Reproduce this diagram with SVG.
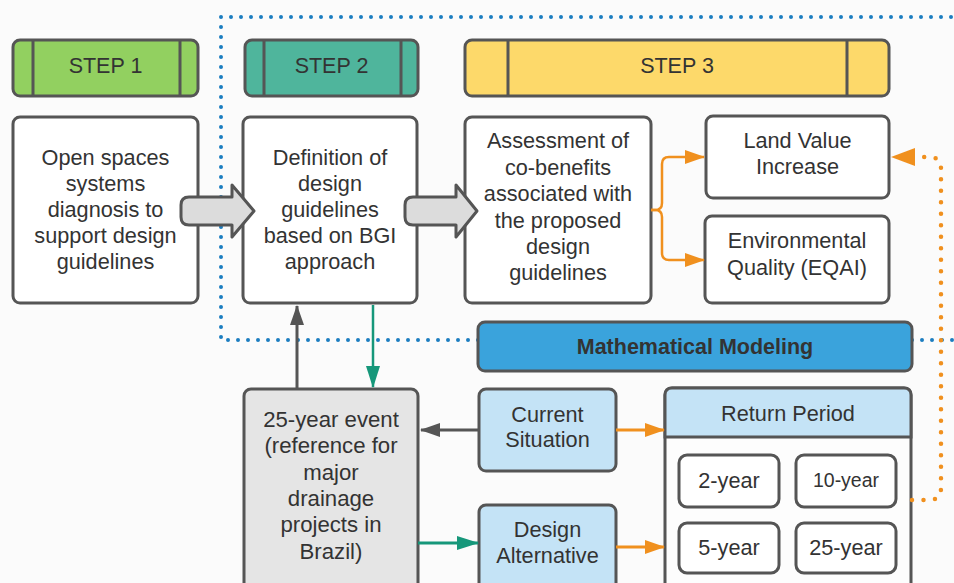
<svg xmlns="http://www.w3.org/2000/svg" width="954" height="583" viewBox="0 0 954 583">
<defs>
<style>
text{font-family:"Liberation Sans",Arial,sans-serif;fill:#333;text-anchor:middle}
.t{font-size:21.7px}
.l{font-size:21.7px}
.e{font-size:22.2px}
.s{font-size:21.5px}
.b{stroke:#555;stroke-width:3}
.w{fill:#fff}
.lb{fill:#c4e3f6}
.blk{fill:#dcdcdc;stroke:#555;stroke-width:3;stroke-linejoin:round}
.in{fill:none;stroke:#555;stroke-width:3}
</style>
<marker id="ao" markerUnits="userSpaceOnUse" markerWidth="20" markerHeight="14" refX="19" refY="7" orient="auto"><path d="M0,0 L20,7 L0,14 Z" fill="#f0901e"/></marker>
<marker id="ao2" markerUnits="userSpaceOnUse" markerWidth="24" markerHeight="18" refX="23" refY="9" orient="auto"><path d="M0,0 L24,9 L0,18 Z" fill="#f0901e"/></marker>
<marker id="ag" markerUnits="userSpaceOnUse" markerWidth="20" markerHeight="14" refX="19" refY="7" orient="auto"><path d="M0,0 L20,7 L0,14 Z" fill="#555"/></marker>
<marker id="at" markerUnits="userSpaceOnUse" markerWidth="22" markerHeight="14" refX="21" refY="7" orient="auto"><path d="M0,0 L22,7 L0,14 Z" fill="#16977a"/></marker>
</defs>
<rect width="954" height="583" fill="#fbfbfb"/>
<g id="boundary">
<path d="M478,340 H221 V17 H960 M912,340 H960" fill="none" stroke="#1b7dc0" stroke-width="4" stroke-linecap="round" stroke-dasharray="0 10"/>
</g>
<g id="step1"><rect x="13" y="40" width="185" height="56" rx="7" fill="#92d060" class="b"/><path d="M33,40 V96 M180,40 V96" class="in"/><text class="s" x="105.5" y="73">STEP 1</text></g>
<g id="step2"><rect x="245" y="40" width="173" height="56" rx="7" fill="#4fb59c" class="b"/><path d="M264,40 V96 M401,40 V96" class="in"/><text class="s" x="331.5" y="73">STEP 2</text></g>
<g id="step3"><rect x="465" y="40" width="424" height="56" rx="7" fill="#fdd96a" class="b"/><path d="M508,40 V96 M847,40 V96" class="in"/><text class="s" x="677" y="73">STEP 3</text></g>
<g id="diagnosis"><rect x="13" y="117" width="185" height="186" rx="7" class="w b"/>
<text class="t" x="105.5" y="165">Open spaces</text><text class="t" x="105.5" y="191">systems</text><text class="t" x="105.5" y="217">diagnosis to</text><text class="t" x="105.5" y="243">support design</text><text class="t" x="105.5" y="269">guidelines</text></g>
<g id="definition"><rect x="243" y="117" width="174" height="186" rx="7" class="w b"/>
<text class="t" x="330" y="165">Definition of</text><text class="t" x="330" y="191">design</text><text class="t" x="330" y="217">guidelines</text><text class="t" x="330" y="243">based on BGI</text><text class="t" x="330" y="269">approach</text></g>
<g id="assessment"><rect x="465" y="117" width="186" height="186" rx="7" class="w b"/>
<text class="t" x="558" y="148">Assessment of</text><text class="t" x="558" y="175">co-benefits</text><text class="t" x="558" y="201">associated with</text><text class="t" x="558" y="228">the proposed</text><text class="t" x="558" y="254">design</text><text class="t" x="558" y="280">guidelines</text></g>
<g id="landvalue"><rect x="706" y="116" width="183" height="82" rx="7" class="w b"/><text class="t" x="797.5" y="148">Land Value</text><text class="t" x="797.5" y="174">Increase</text></g>
<g id="environmental"><rect x="705" y="216" width="184" height="87" rx="7" class="w b"/><text class="t" x="797" y="248">Environmental</text><text class="t" x="797" y="275">Quality (EQAI)</text></g>
<g id="modeling"><rect x="478" y="322" width="434" height="49" rx="7" fill="#3aa3dc" class="b"/><text x="695" y="354" style="font-size:21.5px;font-weight:bold">Mathematical Modeling</text></g>
<g id="event"><rect x="244" y="389" width="174" height="220" rx="7" fill="#e5e5e5" class="b"/>
<text class="e" x="331" y="427">25-year event</text><text class="e" x="331" y="453">(reference for</text><text class="e" x="331" y="480">major</text><text class="e" x="331" y="506">drainage</text><text class="e" x="331" y="532">projects in</text><text class="e" x="331" y="559">Brazil)</text></g>
<g id="current"><rect x="479" y="389" width="137" height="82" rx="7" class="lb b"/><text class="l" x="547.5" y="422">Current</text><text class="l" x="547.5" y="447">Situation</text></g>
<g id="design"><rect x="479" y="505" width="137" height="110" rx="7" class="lb b"/><text class="l" x="547.5" y="537">Design</text><text class="l" x="547.5" y="563">Alternative</text></g>
<g id="returnperiod"><rect x="665" y="388" width="246" height="230" rx="7" fill="#fdfdfd" class="b"/><path d="M665,437 V395 Q665,388 672,388 H904 Q911,388 911,395 V437 Z" class="lb b"/><text class="l" x="788" y="421">Return Period</text></g>
<g id="y2"><rect x="679" y="455" width="100" height="52" rx="8" class="w b"/><text class="l" x="729" y="488">2-year</text></g>
<g id="y10"><rect x="796" y="455" width="100" height="52" rx="8" class="w b"/><text x="846" y="487" style="font-size:19.5px">10-year</text></g>
<g id="y5"><rect x="679" y="523" width="100" height="50" rx="8" class="w b"/><text class="l" x="729" y="555">5-year</text></g>
<g id="y25"><rect x="796" y="523" width="100" height="50" rx="8" class="w b"/><text class="l" x="846" y="555">25-year</text></g>
<g id="connectors">
<path d="M189,197 H232 V185 L254,211 L232,237 V225 H189 Q181,225 181,217 V205 Q181,197 189,197 Z" class="blk"/>
<path d="M413,197 H456 V185 L477,211 L456,237 V225 H413 Q405,225 405,217 V205 Q405,197 413,197 Z" class="blk"/>
<path d="M651,210 H655 Q662,210 662,203 V164 Q662,157 669,157 H704" fill="none" stroke="#f0901e" stroke-width="2.5" marker-end="url(#ao)"/>
<path d="M651,210 H655 Q662,210 662,217 V253 Q662,260 669,260 H704" fill="none" stroke="#f0901e" stroke-width="2.5" marker-end="url(#ao)"/>
<path d="M912,500 H929 Q941,500 941,488 V169 Q941,157 929,157 H892" fill="none" stroke="#f0901e" stroke-width="4.5" stroke-linecap="round" stroke-dasharray="0 11.5" marker-end="url(#ao2)"/>
<path d="M297,388 V306" fill="none" stroke="#555" stroke-width="3" marker-end="url(#ag)"/>
<path d="M373,305 V387" fill="none" stroke="#16977a" stroke-width="2.5" marker-end="url(#at)"/>
<path d="M479,430 H421" fill="none" stroke="#555" stroke-width="3" marker-end="url(#ag)"/>
<path d="M616,430 H664" fill="none" stroke="#f0901e" stroke-width="3" marker-end="url(#ao)"/>
<path d="M418,543 H478" fill="none" stroke="#16977a" stroke-width="3" marker-end="url(#at)"/>
<path d="M616,547 H664" fill="none" stroke="#f0901e" stroke-width="3" marker-end="url(#ao)"/>
</g>
</svg>
